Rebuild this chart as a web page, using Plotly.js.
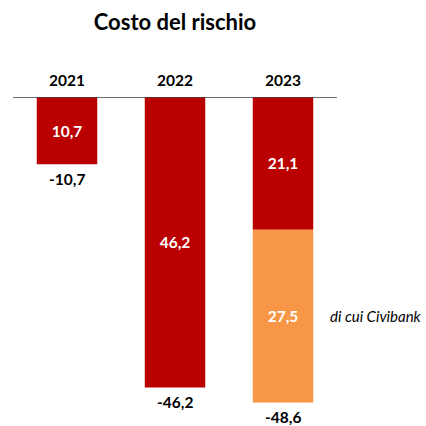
<!DOCTYPE html>
<html>
<head>
<meta charset="utf-8">
<script src="https://cdn.plot.ly/plotly-3.0.1.min.js"></script>
<style>html,body{margin:0;padding:0;background:#fff;}#chart{width:426px;height:426px;}</style>
</head>
<body>
<div id="chart"></div>
<script>
var years = ['2021', '2022', '2023'];
var baseValues = [-10.7, -46.2, -21.1];
var civibankValues = [0, 0, -27.5];
var totals = [-10.7, -46.2, -48.6];
var civibankLabel = 'di cui Civibank';
var chartTitle = 'Costo del rischio';

function fmt(v) { return Math.abs(v).toFixed(1).replace('.', ','); }
function fmtSigned(v) { return (v < 0 ? '-' : '') + fmt(v); }

var FONT = 'Lato, "Open Sans", sans-serif';

var traces = [
  {
    type: 'bar', x: years, y: baseValues,
    text: baseValues.map(fmt), textposition: 'inside', insidetextanchor: 'middle',
    textangle: 0,
    textfont: {color: '#ffffff', size: 15.5, family: FONT, weight: 'bold'},
    marker: {color: '#BA0000', line: {width: 0}},
    hoverinfo: 'none'
  },
  {
    type: 'bar', x: years, y: civibankValues,
    text: civibankValues.map(function(v){ return v === 0 ? '' : fmt(v); }),
    textposition: 'inside', insidetextanchor: 'middle', textangle: 0,
    textfont: {color: '#ffffff', size: 15.5, family: FONT, weight: 'bold'},
    marker: {color: '#F79646', line: {width: 0}},
    hoverinfo: 'none'
  }
];

var annotations = [];
years.forEach(function(yr, i) {
  annotations.push({
    x: i, y: 0, xref: 'x', yref: 'y', text: '<b>' + yr + '</b>',
    showarrow: false, yshift: 17, font: {size: 15.5, color: '#000', family: FONT}
  });
  annotations.push({
    x: i, y: totals[i], xref: 'x', yref: 'y', text: '<b>' + fmtSigned(totals[i]) + '</b>',
    showarrow: false, yshift: -14.5, font: {size: 15.5, color: '#000', family: FONT}
  });
});
annotations.push({
  x: 1, xref: 'paper', xanchor: 'left', xshift: -9,
  y: baseValues[2] + civibankValues[2] / 2, yref: 'y',
  text: '<i>' + civibankLabel + '</i>', showarrow: false,
  font: {size: 15, color: '#000', family: FONT}
});

var layout = {
  width: 426, height: 426,
  margin: {l: 13, r: 89, t: 97, b: 2},
  paper_bgcolor: '#fff', plot_bgcolor: '#fff',
  showlegend: false,
  barmode: 'relative',
  bargap: 0.44,
  title: {text: '<b>' + chartTitle + '</b>', x: 175 / 426, xanchor: 'center', y: 1 - 22 / 426, yanchor: 'middle',
          font: {size: 22, color: '#000', family: FONT}},
  xaxis: {type: 'category', range: [-0.5, 2.5], showticklabels: false, showgrid: false, zeroline: false, showline: false, ticks: ''},
  yaxis: {range: [-52, 0], showticklabels: false, showgrid: false, zeroline: false, showline: false, ticks: ''},
  shapes: [{type: 'line', xref: 'paper', yref: 'y', x0: 0, x1: 1, y0: 0, y1: 0,
            line: {color: '#404040', width: 1.5}, layer: 'above'}],
  annotations: annotations,
  font: {family: FONT}
};

Plotly.newPlot('chart', traces, layout, {displayModeBar: false, staticPlot: true});
</script>
</body>
</html>
